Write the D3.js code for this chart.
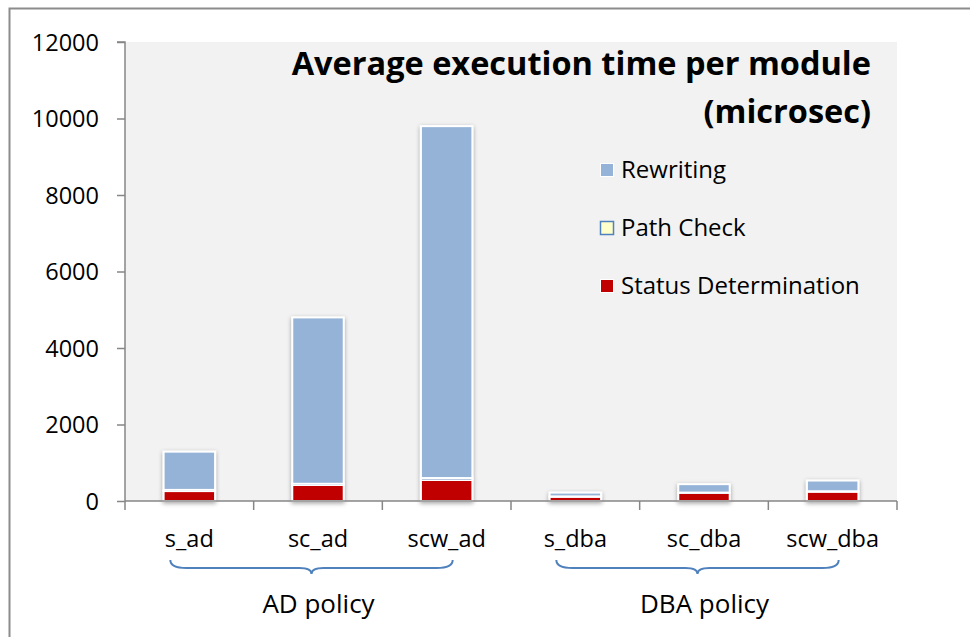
<!DOCTYPE html>
<html>
<head>
<meta charset="utf-8">
<script src="https://cdn.jsdelivr.net/npm/d3@7"></script>
<style>
  html, body { margin: 0; padding: 0; background: #fff; }
  svg { display: block; }
  text { font-family: "Open Sans", "Lato", sans-serif; fill: #000; }
</style>
</head>
<body>
<svg id="chart" width="970" height="637"></svg>
<script>
// ---- data ----
const categories = ["s_ad", "sc_ad", "scw_ad", "s_dba", "sc_dba", "scw_dba"];
const statusDetermination = [260, 420, 550, 110, 210, 245];
const pathCheck = [30, 30, 50, 10, 10, 10];
const rewriting = [1000, 4350, 9200, 100, 220, 280];
const seriesNames = ["Status Determination", "Path Check", "Rewriting"];
const legendOrder = ["Rewriting", "Path Check", "Status Determination"];
const yTicks = [0, 2000, 4000, 6000, 8000, 10000, 12000];
const groups = [
  { label: "AD policy", members: ["s_ad", "sc_ad", "scw_ad"] },
  { label: "DBA policy", members: ["s_dba", "sc_dba", "scw_dba"] }
];
const titleLines = ["Average execution time per module", "(microsec)"];

// ---- layout ----
const svg = d3.select("#chart");
const plot = { left: 125, right: 897, top: 42, bottom: 501 };
const colors = {
  "Rewriting": "#95B3D7",
  "Path Check": "#FFFFCC",
  "Status Determination": "#C00000"
};

// outer chart border
svg.append("rect")
  .attr("x", 9.5).attr("y", 8.5)
  .attr("width", 1000).attr("height", 700)
  .attr("fill", "none").attr("stroke", "#8C8C8C").attr("stroke-width", 2);

// plot background
svg.append("rect")
  .attr("x", plot.left).attr("y", plot.top)
  .attr("width", plot.right - plot.left).attr("height", plot.bottom - plot.top)
  .attr("fill", "#F2F2F2");

const x = d3.scaleBand().domain(categories)
  .range([plot.left, plot.right]).paddingInner(0.6).paddingOuter(0.3);
const y = d3.scaleLinear().domain([0, 12000]).range([plot.bottom, plot.top]);

// stacked data
const table = categories.map((c, i) => ({
  category: c,
  "Status Determination": statusDetermination[i],
  "Path Check": pathCheck[i],
  "Rewriting": rewriting[i]
}));
const stacked = d3.stack().keys(seriesNames)(table);

// shadow filter
const defs = svg.append("defs");
const f = defs.append("filter").attr("id", "shadow")
  .attr("x", "-20%").attr("y", "-20%").attr("width", "140%").attr("height", "140%");
f.append("feDropShadow").attr("dx", 0).attr("dy", 1.5).attr("stdDeviation", 2)
  .attr("flood-color", "#000").attr("flood-opacity", 0.35);

const barsG = svg.append("g").attr("filter", "url(#shadow)");
stacked.forEach(layer => {
  const key = layer.key;
  barsG.append("g").selectAll("rect").data(layer).join("rect")
    .attr("x", d => x(d.data.category))
    .attr("width", x.bandwidth())
    .attr("y", d => y(d[1]))
    .attr("height", d => Math.max(0, y(d[0]) - y(d[1])))
    .attr("fill", colors[key])
    .attr("stroke", "#fff")
    .attr("stroke-width", 2);
  if (key === "Path Check") {
    barsG.append("g").selectAll("line").data(layer).join("line")
      .attr("x1", d => x(d.data.category) + 1)
      .attr("x2", d => x(d.data.category) + x.bandwidth() - 1)
      .attr("y1", d => (y(d[0]) + y(d[1])) / 2)
      .attr("y2", d => (y(d[0]) + y(d[1])) / 2)
      .attr("stroke", "#6F8FC0").attr("stroke-width", 1);
  }
});

// y axis
const yAxis = d3.axisLeft(y).tickValues(yTicks).tickSize(8).tickPadding(18)
  .tickFormat(d3.format("d"));
const yg = svg.append("g").attr("transform", `translate(${plot.left},0)`).call(yAxis);
yg.select(".domain").attr("stroke", "#868686").attr("stroke-width", 1.5)
  .attr("d", `M-8,${plot.top}H0V${plot.bottom}`);
yg.selectAll(".tick line").attr("stroke", "#868686").attr("stroke-width", 1.5);
yg.selectAll(".tick text").attr("font-size", 23.5).attr("font-family", "Open Sans")
  .attr("dy", "0.35em").attr("fill", "#000");

// x axis line and boundary ticks
const xg = svg.append("g");
xg.append("line").attr("x1", plot.left).attr("x2", plot.right)
  .attr("y1", plot.bottom).attr("y2", plot.bottom)
  .attr("stroke", "#868686").attr("stroke-width", 1.5);
const step = x.step();
const boundaries = categories.map(c => x(c) - (step - x.bandwidth()) / 2).concat([plot.right]);
xg.selectAll("line.tb").data(boundaries).join("line").attr("class", "tb")
  .attr("x1", d => d).attr("x2", d => d)
  .attr("y1", plot.bottom).attr("y2", plot.bottom + 9)
  .attr("stroke", "#868686").attr("stroke-width", 1.5);
xg.selectAll("text.cat").data(categories).join("text").attr("class", "cat")
  .attr("x", d => x(d) + x.bandwidth() / 2)
  .attr("y", 547)
  .attr("text-anchor", "middle")
  .attr("font-size", 23.5)
  .text(d => d);

// group braces and labels
groups.forEach(g => {
  const first = x(g.members[0]) + x.bandwidth() / 2 - 19;
  const last = x(g.members[g.members.length - 1]) + x.bandwidth() / 2 + 6;
  const cx = (first + last) / 2;
  const y0 = 560, y1 = 568, y2 = 574;
  const p = d3.path();
  p.moveTo(first, y0);
  p.quadraticCurveTo(first, y1, first + 16, y1);
  p.lineTo(cx - 12, y1);
  p.quadraticCurveTo(cx, y1, cx, y2);
  p.quadraticCurveTo(cx, y1, cx + 12, y1);
  p.lineTo(last - 16, y1);
  p.quadraticCurveTo(last, y1, last, y0);
  svg.append("path").attr("d", p.toString())
    .attr("fill", "none").attr("stroke", "#4F81BD").attr("stroke-width", 2);
  svg.append("text").attr("x", cx + 7).attr("y", 613)
    .attr("text-anchor", "middle").attr("font-size", 26).text(g.label);
});

// title
const tg = svg.append("g");
tg.selectAll("text").data(titleLines).join("text")
  .attr("x", 871)
  .attr("y", (d, i) => 75 + i * 48)
  .attr("text-anchor", "end")
  .attr("font-size", 32.5)
  .attr("font-weight", "bold")
  .text(d => d);

// legend
const lg = svg.append("g");
const legendY = [170, 228, 286];
legendOrder.forEach((name, i) => {
  lg.append("rect")
    .attr("x", 600.5).attr("y", legendY[i] - 6.5)
    .attr("width", 13).attr("height", 13)
    .attr("fill", colors[name])
    .attr("stroke", name === "Path Check" ? "#4F81BD" : "#fff")
    .attr("stroke-width", name === "Path Check" ? 1.5 : 1);
  lg.append("text")
    .attr("x", 621).attr("y", legendY[i])
    .attr("dy", "0.35em")
    .attr("font-size", 24)
    .text(name);
});
</script>
</body>
</html>
